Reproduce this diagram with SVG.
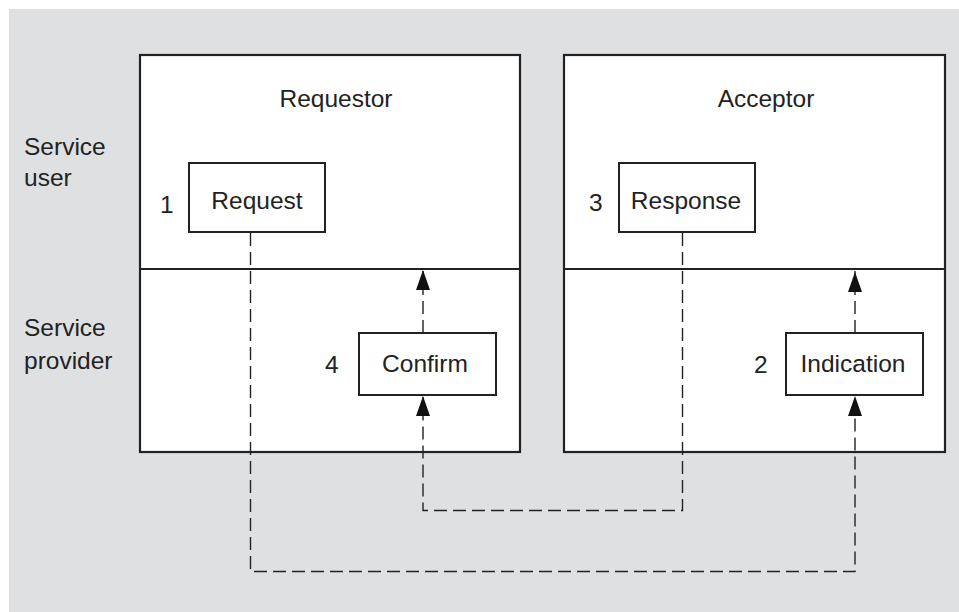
<svg xmlns="http://www.w3.org/2000/svg" width="959" height="612" viewBox="0 0 959 612">
<defs>
<style>
text{font-family:"Liberation Sans",Arial,Helvetica,sans-serif;font-size:24.5px;fill:#222}
.big{fill:#fff;stroke:#222;stroke-width:2.2}
.box{fill:#fff;stroke:#222;stroke-width:2}
.div{stroke:#222;stroke-width:2;fill:none}
.dash{fill:none;stroke:#222;stroke-width:1.4;stroke-dasharray:13 6}
.mid{text-anchor:middle}
.head{fill:#111}
</style>
</defs>
<rect x="0" y="0" width="959" height="612" fill="#fff"/>
<rect x="9" y="9" width="950" height="603" fill="#dfe0e2"/>
<g id="labels">
<text x="24" y="155">Service</text>
<text x="24" y="186">user</text>
<text x="24" y="336">Service</text>
<text x="24" y="369">provider</text>
</g>
<g id="requestor">
<rect class="big" x="140" y="55" width="380" height="397"/>
<line class="div" x1="141" y1="269" x2="519" y2="269"/>
<text class="mid" x="336" y="107">Requestor</text>
</g>
<g id="acceptor">
<rect class="big" x="564" y="55" width="381" height="397"/>
<line class="div" x1="565" y1="269" x2="944" y2="269"/>
<text class="mid" x="766" y="107">Acceptor</text>
</g>
<g id="connectors">
<path class="dash" d="M250.5,233 V571.5 H855 V397"/>
<path class="dash" d="M682.5,233 V510.5 H423 V397"/>
<line class="dash" x1="423" y1="333" x2="423" y2="271"/>
<line class="dash" x1="855" y1="333" x2="855" y2="271"/>
<path class="head" d="M416,290 L423,270 L430,290 Z"/>
<path class="head" d="M848,292 L855,272 L862,292 Z"/>
<path class="head" d="M416,416 L423,396 L430,416 Z"/>
<path class="head" d="M848,416 L855,396 L862,416 Z"/>
</g>
<g id="request">
<rect class="box" x="189" y="163" width="136" height="69"/>
<text class="mid" x="257" y="209">Request</text>
<text x="160" y="213">1</text>
</g>
<g id="response">
<rect class="box" x="619" y="163" width="136" height="69"/>
<text class="mid" x="686" y="209">Response</text>
<text x="589" y="211">3</text>
</g>
<g id="confirm">
<rect class="box" x="359" y="333" width="137" height="62"/>
<text class="mid" x="425" y="372">Confirm</text>
<text x="325" y="373">4</text>
</g>
<g id="indication">
<rect class="box" x="786" y="333" width="137" height="62"/>
<text class="mid" x="853" y="372">Indication</text>
<text x="754" y="373">2</text>
</g>
</svg>
